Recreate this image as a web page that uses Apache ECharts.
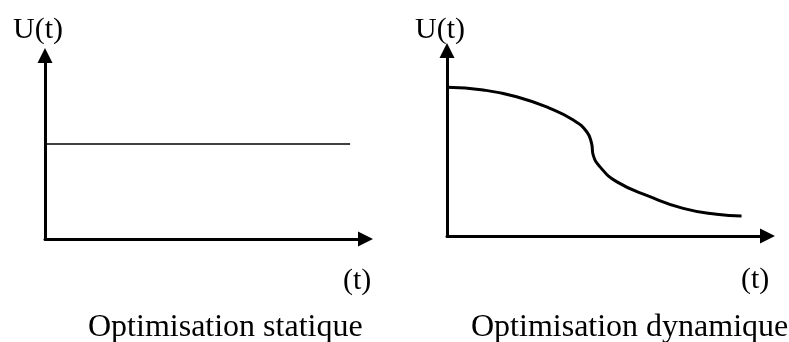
<!DOCTYPE html>
<html>
<head>
<meta charset="utf-8">
<script src="https://cdn.jsdelivr.net/npm/echarts@6/dist/echarts.min.js"></script>
<style>html,body{margin:0;padding:0;background:#fff}#c{width:789px;height:342px}</style>
</head>
<body>
<div id="c"></div>
<script>
// Static optimisation: constant control U(t)
const staticT = [0, 95.2];
const staticU = [51.8, 51.8];
// Dynamic optimisation: decreasing control U(t)
const dynT = [0, 11.3, 21.7, 32.1, 39.4, 43.6, 45.1, 45.6, 47.7, 52.9, 63.3, 73.7, 84.1, 91.9];
const dynU = [80.2, 78.7, 75.1, 68.8, 62.5, 56.2, 50.0, 43.7, 37.4, 29.3, 21.2, 14.9, 11.7, 10.8];
const yAxisName = 'U(t)';
const xAxisName = '(t)';
const panelTitles = ['Optimisation statique', 'Optimisation dynamique'];

const font = '"Liberation Serif", "Times New Roman", serif';
const chart = echarts.init(document.getElementById('c'), null, {renderer: 'canvas'});

function axisBase(gridIndex) {
  return {
    type: 'value', gridIndex, min: 0, max: 100,
    axisLabel: {show: false}, axisTick: {show: false}, splitLine: {show: false},
    axisLine: {show: true, symbol: ['none', 'triangle'], symbolSize: [15, 15],
      lineStyle: {color: '#000', width: 3}}
  };
}
const txt = (text, left, top, size) => ({
  text, left, top, padding: 0,
  textStyle: {fontFamily: font, fontSize: size, fontWeight: 'normal', color: '#000'}
});

chart.setOption({
  animation: false,
  backgroundColor: '#fff',
  title: [
    txt(yAxisName, 13, 15, 30),
    txt(yAxisName, 415, 15, 30),
    txt(xAxisName, 343, 266, 30),
    txt(xAxisName, 741, 265, 30),
    txt(panelTitles[0], 88, 312, 32),
    txt(panelTitles[1], 471, 312, 32)
  ],
  grid: [
    {left: 45, right: 423.5, top: 55.5, bottom: 103},
    {left: 447, right: 21.5, top: 50.5, bottom: 106}
  ],
  xAxis: [axisBase(0), axisBase(1)],
  yAxis: [axisBase(0), axisBase(1)],
  series: [
    {type: 'line', xAxisIndex: 0, yAxisIndex: 0, showSymbol: false, symbol: 'none',
      data: staticT.map((t, i) => [t, staticU[i]]),
      lineStyle: {color: '#000', width: 1.5}},
    {type: 'line', xAxisIndex: 1, yAxisIndex: 1, showSymbol: false, symbol: 'none',
      smooth: 0.5,
      data: dynT.map((t, i) => [t, dynU[i]]),
      lineStyle: {color: '#000', width: 3}}
  ]
});
</script>
</body>
</html>
